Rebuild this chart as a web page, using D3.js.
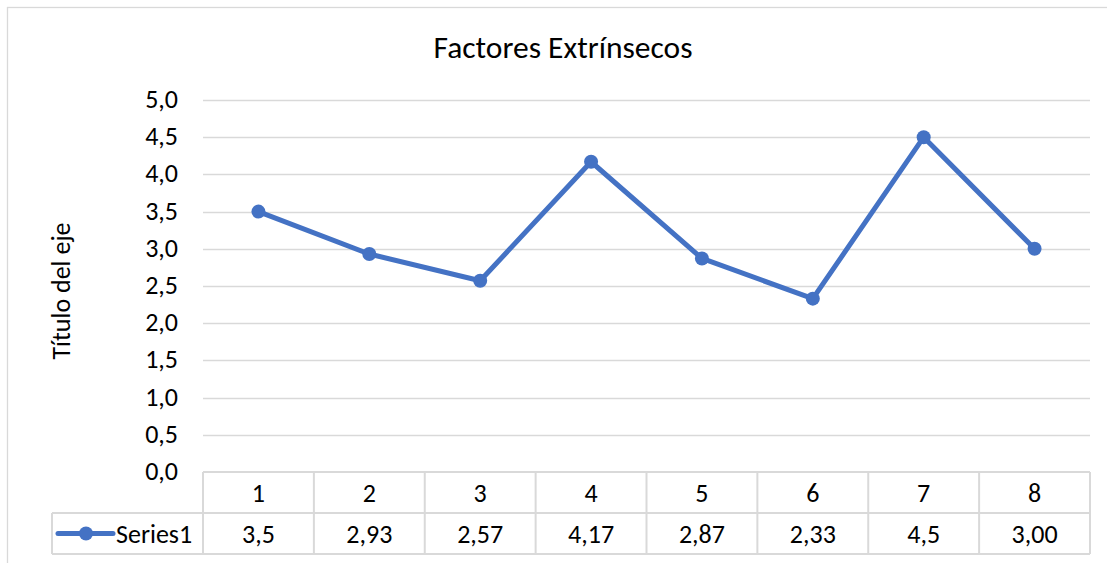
<!DOCTYPE html>
<html>
<head>
<meta charset="utf-8">
<script src="https://cdn.jsdelivr.net/npm/d3@7"></script>
<style>
  html, body { margin: 0; padding: 0; background: #fff; }
  svg { display: block; font-family: Carlito, Lato, "Open Sans", sans-serif; }
</style>
</head>
<body>
<svg id="chart" width="1107" height="563"></svg>
<script>
// Chart content
const chartTitle = "Factores Extrínsecos";
const yAxisTitle = "Título del eje";
const seriesName = "Series1";
const categories = ["1", "2", "3", "4", "5", "6", "7", "8"];
const seriesValues = [3.5, 2.93, 2.57, 4.17, 2.87, 2.33, 4.5, 3.00];
const valueDecimals = [1, 2, 2, 2, 2, 2, 1, 2];
const yTicks = [0, 0.5, 1, 1.5, 2, 2.5, 3, 3.5, 4, 4.5, 5];

const W = 1107, H = 563;
const plot = { left: 203, right: 1090, top: 100, bottom: 472 };
const rowH = 41;
const legendLeft = 52;
const blue = "#4472C4";
const grid = "#d9d9d9";
const labelSize = 26;

const es = d3.formatLocale({ decimal: ",", thousands: ".", grouping: [3], currency: ["", " €"] });
const tickFmt = es.format(".1f");

const svg = d3.select("#chart");

// Outer chart frame
svg.append("rect")
  .attr("x", 7.5).attr("y", 7.5)
  .attr("width", W + 20).attr("height", H + 20)
  .attr("fill", "#fff").attr("stroke", grid).attr("stroke-width", 1.3);

const x = d3.scaleBand().domain(categories).range([plot.left, plot.right]);
const y = d3.scaleLinear().domain([0, 5]).range([plot.bottom, plot.top]);

// Horizontal gridlines
svg.append("g").selectAll("line")
  .data(yTicks.filter(d => d > 0))
  .join("line")
  .attr("x1", plot.left).attr("x2", plot.right)
  .attr("y1", d => Math.round(y(d)) + 0.5).attr("y2", d => Math.round(y(d)) + 0.5)
  .attr("stroke", grid).attr("stroke-width", 1.3);

// Value axis labels
svg.append("g").selectAll("text")
  .data(yTicks)
  .join("text")
  .attr("x", 178).attr("y", d => y(d) - 1)
  .attr("text-anchor", "end").attr("dominant-baseline", "central")
  .attr("font-size", labelSize).attr("fill", "#000")
  .text(d => tickFmt(d));

// Title
svg.append("text")
  .attr("x", 563).attr("y", 47)
  .attr("text-anchor", "middle").attr("dominant-baseline", "central")
  .attr("font-size", 31.5).attr("fill", "#000")
  .text(chartTitle);

// Axis title
svg.append("text")
  .attr("transform", `translate(61,${(plot.top + plot.bottom) / 2 + 5}) rotate(-90)`)
  .attr("text-anchor", "middle").attr("dominant-baseline", "central")
  .attr("font-size", labelSize).attr("fill", "#000")
  .text(yAxisTitle);

// Data table grid
const tbl = svg.append("g").attr("fill", "none").attr("stroke", grid).attr("stroke-width", 2);
const rowTop1 = plot.bottom, rowTop2 = plot.bottom + rowH, rowEnd = plot.bottom + 2 * rowH;
tbl.append("line").attr("x1", plot.left).attr("x2", plot.right).attr("y1", rowTop1).attr("y2", rowTop1);
tbl.append("line").attr("x1", legendLeft).attr("x2", plot.right).attr("y1", rowTop2).attr("y2", rowTop2);
tbl.append("line").attr("x1", legendLeft).attr("x2", plot.right).attr("y1", rowEnd).attr("y2", rowEnd);
tbl.append("line").attr("x1", legendLeft).attr("x2", legendLeft).attr("y1", rowTop2).attr("y2", rowEnd);
tbl.selectAll("line.col")
  .data(categories.map(c => x(c)).concat([plot.right]))
  .join("line").attr("class", "col")
  .attr("x1", d => d).attr("x2", d => d)
  .attr("y1", rowTop1).attr("y2", rowEnd);

// Category labels
svg.append("g").selectAll("text")
  .data(categories)
  .join("text")
  .attr("x", d => x(d) + x.bandwidth() / 2).attr("y", rowTop1 + rowH / 2)
  .attr("text-anchor", "middle").attr("dominant-baseline", "central")
  .attr("font-size", labelSize).attr("fill", "#000")
  .text(d => d);

// Value row
svg.append("g").selectAll("text")
  .data(seriesValues)
  .join("text")
  .attr("x", (d, i) => x(categories[i]) + x.bandwidth() / 2).attr("y", rowTop2 + rowH / 2)
  .attr("text-anchor", "middle").attr("dominant-baseline", "central")
  .attr("font-size", labelSize).attr("fill", "#000")
  .text((d, i) => es.format(`.${valueDecimals[i]}f`)(d));

// Legend key inside the table
const ly = rowTop2 + rowH / 2;
svg.append("line").attr("x1", 58).attr("x2", 113).attr("y1", ly).attr("y2", ly)
  .attr("stroke", blue).attr("stroke-width", 5).attr("stroke-linecap", "round");
svg.append("circle").attr("cx", 86).attr("cy", ly).attr("r", 7).attr("fill", blue);
svg.append("text").attr("x", 116).attr("y", ly)
  .attr("dominant-baseline", "central").attr("font-size", labelSize).attr("fill", "#000")
  .text(seriesName);

// Series line and markers
const line = d3.line()
  .x((d, i) => x(categories[i]) + x.bandwidth() / 2)
  .y(d => y(d));
svg.append("path").datum(seriesValues)
  .attr("d", line).attr("fill", "none")
  .attr("stroke", blue).attr("stroke-width", 5).attr("stroke-linejoin", "round").attr("stroke-linecap", "round");
svg.append("g").selectAll("circle")
  .data(seriesValues)
  .join("circle")
  .attr("cx", (d, i) => x(categories[i]) + x.bandwidth() / 2)
  .attr("cy", d => y(d))
  .attr("r", 7).attr("fill", blue);
</script>
</body>
</html>
